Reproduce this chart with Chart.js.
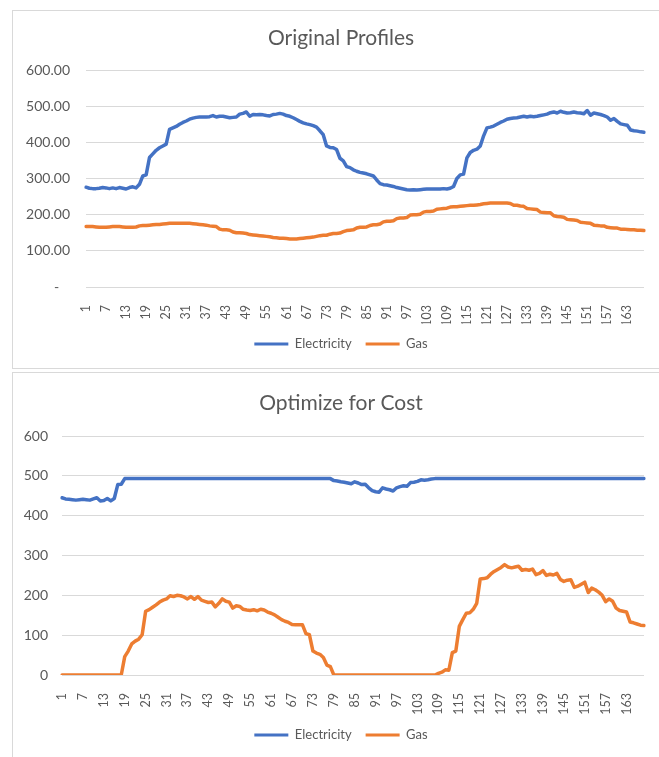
<!DOCTYPE html>
<html>
<head>
<meta charset="utf-8">
<script src="https://cdn.jsdelivr.net/npm/chart.js@4.4.0/dist/chart.umd.min.js"></script>
<style>
  body { margin: 0; background: #fff; width: 659px; height: 757px; overflow: hidden; position: relative; }
  .frame { position: absolute; left: 12px; width: 700px; border: 1px solid #d9d9d9; }
  #frameTop { top: 10px; height: 357px; }
  #frameBottom { top: 372px; height: 420px; }
  canvas { position: absolute; left: 13px; }
  #origChart { top: 11px; }
  #costChart { top: 373px; }
</style>
</head>
<body>
<div class="frame" id="frameTop"></div>
<div class="frame" id="frameBottom"></div>
<canvas id="origChart" width="656" height="357"></canvas>
<canvas id="costChart" width="656" height="384"></canvas>
<script>
// hour index 1..168 (category axis)
const hours = Array.from({ length: 168 }, (_, i) => String(i + 1));

// Original Profiles
const elecOriginal = [
  276, 273, 272, 272, 273, 275, 274, 272, 274, 272, 275, 273, 271, 275, 277, 274, 284, 307, 310, 358,
  368, 378, 385, 390, 395, 436, 440, 444, 450, 455, 459, 464, 467, 469, 470, 470, 470, 471, 474, 470,
  472, 472, 470, 468, 469, 470, 478, 480, 484, 472, 477, 476, 477, 476, 474, 473, 477, 478, 480, 478,
  474, 472, 468, 463, 458, 454, 451, 449, 446, 442, 432, 421, 390, 386, 385, 380, 356, 349, 333, 330,
  324, 320, 317, 315, 313, 310, 307, 296, 286, 283, 282, 280, 278, 275, 273, 271, 269, 268, 269, 268,
  269, 270, 271, 271, 271, 271, 271, 272, 271, 273, 278, 300, 310, 312, 357, 372, 378, 381, 390, 418,
  440, 442, 445, 450, 455, 459, 464, 466, 467, 468, 470, 472, 470, 472, 471, 472, 474, 476, 478, 482,
  484, 481, 486, 483, 481, 482, 484, 482, 481, 479, 488, 475, 481, 479, 477, 474, 470, 461, 466, 458,
  451, 449, 447, 434, 432, 431, 429, 428
];
const gasOriginal = [
  167, 167, 167, 166, 165, 165, 165, 166, 167, 167, 167, 166, 165, 165, 165, 166, 169, 170, 170, 171,
  172, 173, 173, 174, 175, 176, 176, 176, 176, 176, 176, 176, 175, 174, 173, 172, 171, 169, 168, 167,
  160, 158, 158, 157, 152, 150, 150, 149, 148, 145, 144, 143, 142, 141, 140, 139, 137, 136, 135, 135,
  134, 133, 133, 133, 134, 135, 136, 137, 138, 140, 142, 143, 143, 146, 148, 148, 149, 153, 156, 157,
  158, 163, 165, 165, 166, 170, 172, 172, 174, 180, 182, 182, 183, 189, 191, 191, 192, 199, 200, 200,
  201, 207, 209, 209, 210, 215, 216, 217, 218, 221, 222, 222, 223, 224, 225, 226, 226, 227, 228, 230,
  231, 232, 232, 232, 232, 232, 232, 231, 226, 226, 224, 223, 217, 216, 215, 214, 207, 206, 205, 205,
  197, 195, 194, 193, 187, 186, 185, 184, 179, 178, 177, 176, 171, 170, 169, 169, 165, 164, 163, 163,
  160, 160, 159, 158, 158, 157, 157, 156
];

// Optimize for Cost
const elecCost = [
  445, 442, 441, 440, 439, 440, 441, 440, 439, 442, 445, 437, 438, 443, 437, 443, 478, 479, 493, 493,
  493, 493, 493, 493, 493, 493, 493, 493, 493, 493, 493, 493, 493, 493, 493, 493, 493, 493, 493, 493,
  493, 493, 493, 493, 493, 493, 493, 493, 493, 493, 493, 493, 493, 493, 493, 493, 493, 493, 493, 493,
  493, 493, 493, 493, 493, 493, 493, 493, 493, 493, 493, 493, 493, 493, 493, 493, 493, 493, 488, 487,
  485, 484, 482, 480, 485, 482, 478, 479, 470, 463, 460, 459, 470, 467, 465, 462, 470, 473, 475, 474,
  483, 484, 486, 490, 489, 490, 492, 493, 493, 493, 493, 493, 493, 493, 493, 493, 493, 493, 493, 493,
  493, 493, 493, 493, 493, 493, 493, 493, 493, 493, 493, 493, 493, 493, 493, 493, 493, 493, 493, 493,
  493, 493, 493, 493, 493, 493, 493, 493, 493, 493, 493, 493, 493, 493, 493, 493, 493, 493, 493, 493,
  493, 493, 493, 493, 493, 493, 493, 493
];
const gasCost = [
  0, 0, 0, 0, 0, 0, 0, 0, 0, 0, 0, 0, 0, 0, 0, 0, 0, 0, 46, 60,
  78, 85, 90, 101, 160, 164, 170, 176, 183, 188, 191, 199, 197, 200, 199, 196, 191, 197, 190, 197,
  188, 185, 182, 183, 171, 180, 191, 185, 183, 168, 174, 172, 165, 163, 162, 164, 161, 165, 163, 158,
  155, 151, 145, 139, 135, 132, 127, 126, 126, 126, 104, 101, 60, 55, 52, 44, 25, 21, 0, 0,
  0, 0, 0, 0, 0, 0, 0, 0, 0, 0, 0, 0, 0, 0, 0, 0, 0, 0, 0, 0,
  0, 0, 0, 0, 0, 0, 0, 0, 4, 7, 13, 12, 56, 60, 122, 139, 155, 156, 165, 180,
  241, 242, 244, 253, 260, 265, 270, 277, 271, 269, 271, 273, 263, 265, 263, 266, 252, 255, 262, 250,
  253, 251, 255, 240, 235, 238, 239, 220, 223, 228, 233, 207, 218, 214, 208, 200, 184, 191, 185, 168,
  162, 160, 158, 133, 131, 128, 125, 124
];

const textColor = '#595959';
const gridColor = '#d9d9d9';
const fontFamily = 'Lato, "Open Sans", sans-serif';

function makeChart(canvasId, titleText, elec, gas, cfg) {
    const ctx = document.getElementById(canvasId).getContext('2d');
    return new Chart(ctx, {
        type: 'line',
        data: {
            labels: hours,
            datasets: [{
                label: 'Electricity',
                data: elec,
                borderColor: '#4472c4',
                backgroundColor: '#4472c4',
                borderWidth: 3.5,
                pointRadius: 0,
                tension: 0,
                borderJoinStyle: 'round',
                borderCapStyle: 'round'
            }, {
                label: 'Gas',
                data: gas,
                borderColor: '#ed7d31',
                backgroundColor: '#ed7d31',
                borderWidth: 3.5,
                pointRadius: 0,
                tension: 0,
                borderJoinStyle: 'round',
                borderCapStyle: 'round'
            }]
        },
        options: {
            responsive: false,
            animation: false,
            layout: {
                padding: { left: 0, right: 0, top: 0, bottom: cfg.padBottom }
            },
            scales: {
                x: {
                    grid: { display: false },
                    border: { display: false },
                    ticks: {
                        autoSkip: false,
                        minRotation: 90,
                        maxRotation: 90,
                        padding: 10,
                        color: textColor,
                        font: { family: fontFamily, size: 12.5 },
                        callback: function(value, index) {
                            return index % 6 === 0 ? hours[index] : '';
                        }
                    },
                    afterFit: function(scale) { scale.height = cfg.xHeight; }
                },
                y: {
                    min: 0,
                    max: 600,
                    grid: { color: gridColor, lineWidth: 1, drawTicks: false },
                    border: { display: false },
                    ticks: {
                        stepSize: 100,
                        padding: cfg.yPad,
                        color: textColor,
                        font: { family: fontFamily, size: 14 },
                        callback: cfg.yFormat
                    },
                    afterFit: function(scale) { scale.width = cfg.yWidth; }
                },
                yRight: {
                    axis: 'y',
                    position: 'right',
                    grid: { display: false },
                    border: { display: false },
                    ticks: { display: false },
                    afterFit: function(scale) { scale.width = 18; }
                }
            },
            plugins: {
                title: {
                    display: true,
                    text: titleText,
                    color: textColor,
                    font: { family: fontFamily, size: 21, weight: 'normal' },
                    padding: { top: cfg.titleTop, bottom: cfg.titleBottom }
                },
                legend: {
                    position: 'bottom',
                    labels: {
                        boxWidth: 34,
                        boxHeight: 3,
                        padding: 14,
                        color: textColor,
                        font: { family: fontFamily, size: 13 },
                        generateLabels: function(chart) {
                            return Chart.defaults.plugins.legend.labels.generateLabels(chart).map(function(item) {
                                item.fillStyle = item.strokeStyle;
                                item.lineWidth = 0;
                                return item;
                            });
                        }
                    }
                },
                tooltip: { enabled: false }
            }
        }
    });
}

makeChart('origChart', 'Original Profiles', elecOriginal, gasOriginal, {
    padBottom: 7.5,
    xHeight: 36.5,
    yWidth: 73,
    yPad: 16,
    titleTop: 14.4,
    titleBottom: 19.4,
    yFormat: function(v) { return v === 0 ? '-   ' : v.toFixed(2); }
});

makeChart('costChart', 'Optimize for Cost', elecCost, gasCost, {
    padBottom: 5.5,
    xHeight: 39.5,
    yWidth: 49,
    yPad: 14,
    titleTop: 17.4,
    titleBottom: 20.4,
    yFormat: function(v) { return String(v); }
});
</script>
</body>
</html>
